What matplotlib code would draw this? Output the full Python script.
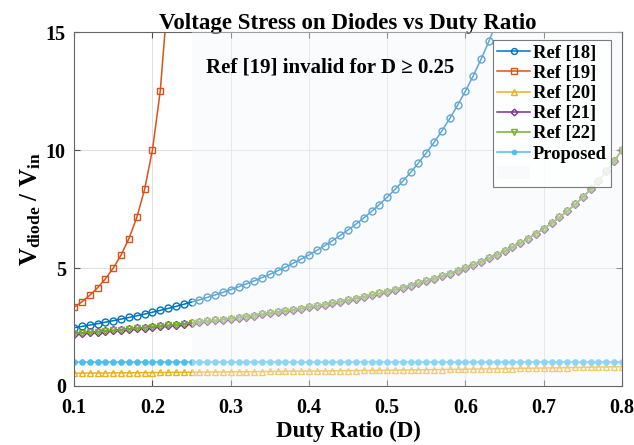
import matplotlib

matplotlib.use("Agg")
import matplotlib.pyplot as plt
from matplotlib.patches import Patch

# Duty ratio grid (0.10 ... 0.80, step 0.01)
duty = [
    0.10, 0.11, 0.12, 0.13, 0.14, 0.15, 0.16, 0.17, 0.18, 0.19,
    0.20, 0.21, 0.22, 0.23, 0.24, 0.25, 0.26, 0.27, 0.28, 0.29,
    0.30, 0.31, 0.32, 0.33, 0.34, 0.35, 0.36, 0.37, 0.38, 0.39,
    0.40, 0.41, 0.42, 0.43, 0.44, 0.45, 0.46, 0.47, 0.48, 0.49,
    0.50, 0.51, 0.52, 0.53, 0.54, 0.55, 0.56, 0.57, 0.58, 0.59,
    0.60, 0.61, 0.62, 0.63, 0.64, 0.65, 0.66, 0.67, 0.68, 0.69,
    0.70, 0.71, 0.72, 0.73, 0.74, 0.75, 0.76, 0.77, 0.78, 0.79,
    0.80,
]

# Ref [18] (read up to where it leaves the top of the plot)
ref18 = [
    2.469, 2.525, 2.583, 2.642, 2.704, 2.768, 2.834, 2.903, 2.974, 3.048,
    3.125, 3.205, 3.287, 3.373, 3.463, 3.556, 3.652, 3.753, 3.858, 3.967,
    4.082, 4.201, 4.325, 4.455, 4.591, 4.734, 4.883, 5.039, 5.203, 5.375,
    5.556, 5.745, 5.945, 6.156, 6.378, 6.612, 6.859, 7.120, 7.396, 7.689,
    8.000, 8.330, 8.681, 9.054, 9.452, 9.877, 10.331, 10.817, 11.338, 11.898,
    12.500, 13.149, 13.850, 14.609, 15.432, 16.327,
]

# Ref [19] (only valid for D < 0.25)
ref19 = [
    3.333, 3.571, 3.846, 4.167, 4.545, 5.000, 5.556, 6.250, 7.143, 8.333,
    10.000, 12.500, 16.667, 25.000, 50.000,
]

ref20 = [
    0.540, 0.543, 0.546, 0.549, 0.552, 0.555, 0.557, 0.560, 0.563, 0.566,
    0.569, 0.572, 0.575, 0.578, 0.581, 0.584, 0.587, 0.590, 0.593, 0.596,
    0.599, 0.602, 0.605, 0.608, 0.611, 0.615, 0.618, 0.621, 0.625, 0.628,
    0.632, 0.635, 0.639, 0.642, 0.646, 0.650, 0.653, 0.657, 0.661, 0.665,
    0.669, 0.673, 0.677, 0.681, 0.685, 0.690, 0.694, 0.698, 0.703, 0.707,
    0.712, 0.716, 0.721, 0.726, 0.731, 0.736, 0.741, 0.746, 0.751, 0.756,
    0.762, 0.767, 0.773, 0.778, 0.784, 0.790, 0.796, 0.802, 0.808, 0.814,
    0.820,
]

ref21 = [
    2.222, 2.247, 2.273, 2.299, 2.326, 2.353, 2.381, 2.410, 2.439, 2.469,
    2.500, 2.532, 2.564, 2.597, 2.632, 2.667, 2.703, 2.740, 2.778, 2.817,
    2.857, 2.899, 2.941, 2.985, 3.030, 3.077, 3.125, 3.175, 3.226, 3.279,
    3.333, 3.390, 3.448, 3.509, 3.571, 3.636, 3.704, 3.774, 3.846, 3.922,
    4.000, 4.082, 4.167, 4.255, 4.348, 4.444, 4.545, 4.651, 4.762, 4.878,
    5.000, 5.128, 5.263, 5.405, 5.556, 5.714, 5.882, 6.061, 6.250, 6.452,
    6.667, 6.897, 7.143, 7.407, 7.692, 8.000, 8.333, 8.696, 9.091, 9.524,
    10.000,
]

ref22 = list(ref21)

proposed = [1.0] * len(duty)

x_ticks = [0.1, 0.2, 0.3, 0.4, 0.5, 0.6, 0.7, 0.8]
y_ticks = [0, 5, 10, 15]

# MATLAB default colour order
colours = {
    "Ref [18]": (0.0, 0.447, 0.741),
    "Ref [19]": (0.850, 0.325, 0.098),
    "Ref [20]": (0.929, 0.694, 0.125),
    "Ref [21]": (0.494, 0.184, 0.556),
    "Ref [22]": (0.466, 0.674, 0.188),
    "Proposed": (0.301, 0.745, 0.933),
}

plt.rcParams["font.family"] = "Liberation Serif"
plt.rcParams["font.weight"] = "bold"
plt.rcParams["mathtext.fontset"] = "custom"
plt.rcParams["mathtext.rm"] = "Liberation Serif:bold"
plt.rcParams["mathtext.bf"] = "Liberation Serif:bold"
plt.rcParams["mathtext.it"] = "Liberation Serif:bold"

fig = plt.figure(figsize=(6.34, 4.45), dpi=100)
ax = fig.add_axes([0.117, 0.1326, 0.864, 0.7954])

ms = 5.0
ax.plot(duty[: len(ref18)], ref18, "-o", color=colours["Ref [18]"], lw=1.1,
        ms=ms, mfc="none", mew=1.0, label="Ref [18]")
ax.plot(duty[: len(ref19)], ref19, "-s", color=colours["Ref [19]"], lw=1.1,
        ms=ms - 0.6, mfc="none", mew=1.0, label="Ref [19]")
ax.plot(duty, ref20, "-^", color=colours["Ref [20]"], lw=1.1,
        ms=ms, mfc="none", mew=1.0, label="Ref [20]")
ax.plot(duty, ref21, "-D", color=colours["Ref [21]"], lw=1.1,
        ms=ms - 1.0, mfc="none", mew=1.0, label="Ref [21]")
ax.plot(duty, ref22, "-v", color=colours["Ref [22]"], lw=1.1,
        ms=ms, mfc="none", mew=1.0, label="Ref [22]")
ax.plot(duty, proposed, "-o", color=colours["Proposed"], lw=1.1,
        ms=ms - 0.8, mfc=colours["Proposed"], mew=0.5, label="Proposed")

# Shade region where Ref [19] is invalid
shade = ax.axvspan(0.25, 0.8, color=(0.95, 0.965, 0.985), alpha=0.4,
                   lw=0, zorder=5)

ax.text(0.427, 13.5, "Ref [19] invalid for D \u2265 0.25", ha="center",
        va="center", fontsize=15, fontweight="bold", zorder=6)

ax.set_xlim(0.1, 0.8)
ax.set_ylim(0, 15)
ax.set_xticks(x_ticks)
ax.set_xticklabels([f"{t:.1f}" for t in x_ticks])
ax.set_yticks(y_ticks)
ax.tick_params(direction="in", length=4, width=0.8, colors="0.3",
               labelsize=14.5, labelcolor="black", top=True, right=True)
ax.tick_params(axis="x", pad=9)
ax.tick_params(axis="y", pad=6)
for lab in ax.get_xticklabels() + ax.get_yticklabels():
    lab.set_fontweight("bold")
ax.grid(True, color="0.88", lw=0.7)
ax.set_axisbelow(True)
for sp in ax.spines.values():
    sp.set_color("0.4")
    sp.set_linewidth(0.8)

ax.set_title("Voltage Stress on Diodes vs Duty Ratio", fontsize=16.5,
             fontweight="bold", pad=2)
ax.set_xlabel("Duty Ratio (D)", fontsize=16.5, fontweight="bold", labelpad=2)
ax.set_ylabel(r"$\mathregular{V_{diode}}$ / $\mathregular{V_{in}}$",
              fontsize=18, fontweight="bold", labelpad=2)

handles, labels = ax.get_legend_handles_labels()
handles.append(Patch(facecolor=(0.975, 0.98, 0.99), edgecolor="none"))
labels.append(" ")
leg = ax.legend(handles, labels, loc="upper right", fontsize=13.3,
                frameon=True, fancybox=False, edgecolor="0.35",
                borderpad=0.25, labelspacing=0.17, handlelength=1.75,
                handletextpad=0.15, borderaxespad=0.0, markerscale=0.85,
                bbox_to_anchor=(0.98, 0.977))
leg.get_frame().set_linewidth(0.8)
leg.set_zorder(10)

fig.savefig("out.png", dpi=100)
